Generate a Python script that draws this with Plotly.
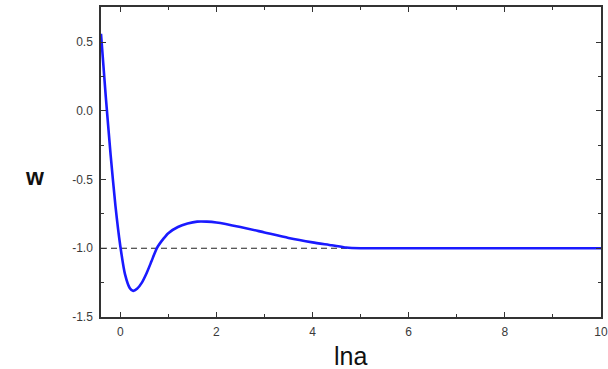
import plotly.graph_objects as go

# curve w(ln a)
lna = [-0.4, -0.3, -0.2, -0.1, 0.0, 0.1, 0.2, 0.27, 0.35, 0.45, 0.55, 0.65, 0.76, 0.9, 1.0,
       1.2, 1.4, 1.6, 1.8, 2.0, 2.5, 3.0, 3.5, 4.0, 4.4, 4.7, 5.0, 6.0, 8.0, 10.0]
w = [0.56, 0.10, -0.32, -0.69, -0.98, -1.19, -1.29, -1.31, -1.295, -1.25, -1.18, -1.095, -1.0, -0.93, -0.89,
     -0.845, -0.82, -0.806, -0.806, -0.812, -0.845, -0.885, -0.925, -0.957, -0.978, -0.995, -1.0, -1.0, -1.0, -1.0]

ref_x = [-0.4, 10.0]
ref_w = [-1.0, -1.0]

x_ticks = [0, 2, 4, 6, 8, 10]
y_ticks = [-1.5, -1.0, -0.5, 0.0, 0.5]
y_labels = ["-1.5", "-1.0", "-0.5", "0.0", "0.5"]

fig = go.Figure()
fig.add_trace(go.Scatter(x=ref_x, y=ref_w, mode="lines",
                         line=dict(color="#222", width=1.2, dash="6px,4px"), showlegend=False))
fig.add_trace(go.Scatter(x=lna, y=w, mode="lines",
                         line=dict(color="#1a1aff", width=2.6, shape="spline", smoothing=0.6),
                         showlegend=False))

axis_common = dict(showline=True, linecolor="#333", linewidth=1.5, mirror="ticks",
                   ticks="inside", ticklen=5, tickwidth=1.3, tickcolor="#333",
                   showgrid=False, zeroline=False,
                   tickfont=dict(family="Liberation Sans, Arial", size=12, color="#3a3a3a"))

fig.update_xaxes(range=[-0.4, 10], tickvals=x_ticks, ticktext=[str(t) for t in x_ticks],
                 minor=dict(ticks="inside", ticklen=3, dtick=1, tick0=0, tickcolor="#333"),
                 ticklabelstandoff=3, **axis_common)
fig.update_yaxes(range=[-1.5, 0.755], tickvals=y_ticks, ticktext=y_labels,
                 minor=dict(ticks="inside", ticklen=3, dtick=0.25, tick0=0, tickcolor="#333"),
                 ticklabelstandoff=4, **axis_common)

fig.update_layout(
    width=608, height=369,
    margin=dict(l=101, r=7, t=7, b=52, autoexpand=False),
    paper_bgcolor="white", plot_bgcolor="white",
    annotations=[
        dict(text="<b>w</b>", x=34, y=177, xref="paper", yref="paper", showarrow=False,
             xanchor="center", yanchor="middle",
             font=dict(family="Liberation Sans, Arial", size=23, color="#111")),
        dict(text="lna", x=350, y=356, xref="paper", yref="paper", showarrow=False,
             xanchor="center", yanchor="middle",
             font=dict(family="Liberation Sans, Arial", size=25, color="#111")),
    ],
)
# convert pixel positions of the axis titles to paper coordinates
for a in fig.layout.annotations:
    a.x = (a.x - 101) / 500
    a.y = (317 - a.y) / 310

fig.write_html("out.html", config={"displayModeBar": False},
               post_script="document.body.style.margin='0';document.body.style.overflow='hidden';")
